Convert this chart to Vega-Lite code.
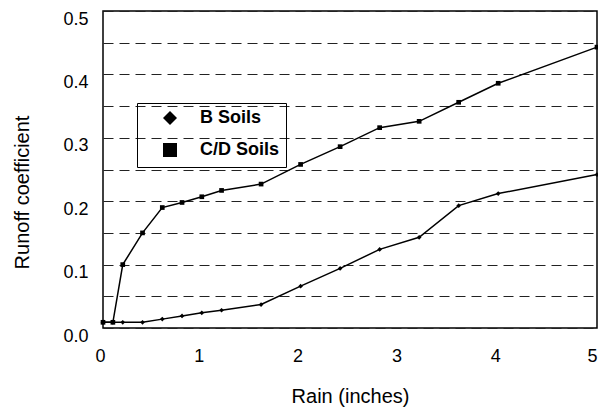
{
  "$schema": "https://vega.github.io/schema/vega-lite/v6.json",
  "width": 494,
  "height": 317,
  "autosize": {"type": "none"},
  "padding": {"left": 103, "top": 11, "right": 1, "bottom": 80},
  "background": "white",
  "config": {
    "font": "Liberation Sans",
    "view": {"stroke": "black", "strokeWidth": 1.5}
  },
  "data": {
    "values": [
      {"rain": 0.0, "coef": 0.009, "soil": "C/D Soils"},
      {"rain": 0.1, "coef": 0.009, "soil": "C/D Soils"},
      {"rain": 0.2, "coef": 0.100, "soil": "C/D Soils"},
      {"rain": 0.4, "coef": 0.150, "soil": "C/D Soils"},
      {"rain": 0.6, "coef": 0.190, "soil": "C/D Soils"},
      {"rain": 0.8, "coef": 0.198, "soil": "C/D Soils"},
      {"rain": 1.0, "coef": 0.207, "soil": "C/D Soils"},
      {"rain": 1.2, "coef": 0.217, "soil": "C/D Soils"},
      {"rain": 1.6, "coef": 0.227, "soil": "C/D Soils"},
      {"rain": 2.0, "coef": 0.258, "soil": "C/D Soils"},
      {"rain": 2.4, "coef": 0.286, "soil": "C/D Soils"},
      {"rain": 2.8, "coef": 0.316, "soil": "C/D Soils"},
      {"rain": 3.2, "coef": 0.326, "soil": "C/D Soils"},
      {"rain": 3.6, "coef": 0.356, "soil": "C/D Soils"},
      {"rain": 4.0, "coef": 0.386, "soil": "C/D Soils"},
      {"rain": 5.0, "coef": 0.443, "soil": "C/D Soils"},
      {"rain": 0.0, "coef": 0.009, "soil": "B Soils"},
      {"rain": 0.1, "coef": 0.009, "soil": "B Soils"},
      {"rain": 0.2, "coef": 0.009, "soil": "B Soils"},
      {"rain": 0.4, "coef": 0.009, "soil": "B Soils"},
      {"rain": 0.6, "coef": 0.014, "soil": "B Soils"},
      {"rain": 0.8, "coef": 0.019, "soil": "B Soils"},
      {"rain": 1.0, "coef": 0.024, "soil": "B Soils"},
      {"rain": 1.2, "coef": 0.028, "soil": "B Soils"},
      {"rain": 1.6, "coef": 0.037, "soil": "B Soils"},
      {"rain": 2.0, "coef": 0.066, "soil": "B Soils"},
      {"rain": 2.4, "coef": 0.094, "soil": "B Soils"},
      {"rain": 2.8, "coef": 0.124, "soil": "B Soils"},
      {"rain": 3.2, "coef": 0.143, "soil": "B Soils"},
      {"rain": 3.6, "coef": 0.193, "soil": "B Soils"},
      {"rain": 4.0, "coef": 0.212, "soil": "B Soils"},
      {"rain": 5.0, "coef": 0.242, "soil": "B Soils"}
    ]
  },
  "encoding": {
    "x": {
      "field": "rain",
      "type": "quantitative",
      "scale": {"domain": [0, 5], "nice": false},
      "axis": {
        "title": "Rain (inches)",
        "values": [0, 1, 2, 3, 4, 5],
        "format": "d",
        "grid": false,
        "ticks": false,
        "domain": false,
        "labelFontSize": 18,
        "labelColor": "black",
        "labelPadding": 19,
        "labelOffset": {"condition": {"test": "datum.value == 5", "value": -5}, "value": -3},
        "labelFlush": false,
        "titleFontSize": 20,
        "titleFontWeight": "normal",
        "titleColor": "black",
        "titleBaseline": "middle",
        "titleY": 68
      }
    },
    "y": {
      "field": "coef",
      "type": "quantitative",
      "scale": {"domain": [0, 0.5], "nice": false},
      "axis": {
        "title": "Runoff coefficient",
        "values": [0, 0.05, 0.1, 0.15, 0.2, 0.25, 0.3, 0.35, 0.4, 0.45, 0.5],
        "labelExpr": "round(datum.value * 20) % 2 == 0 ? format(datum.value, '.1f') : ''",
        "grid": true,
        "gridColor": "#222",
        "gridDash": [10, 6],
        "gridWidth": 1,
        "gridOpacity": 1,
        "ticks": false,
        "domain": false,
        "labelFontSize": 18,
        "labelColor": "black",
        "labelPadding": 15,
        "labelOffset": 8,
        "labelFlush": false,
        "titleFontSize": 20,
        "titleFontWeight": "normal",
        "titleColor": "black",
        "titleAlign": "center",
        "titleBaseline": "middle",
        "titleX": -81,
        "titleY": 181
      }
    }
  },
  "layer": [
    {
      "mark": {"type": "line", "color": "black", "strokeWidth": 1.5},
      "encoding": {"detail": {"field": "soil", "type": "nominal"}}
    },
    {
      "mark": {"type": "point", "filled": true, "color": "black", "size": 22, "opacity": 1},
      "encoding": {
        "shape": {
          "field": "soil",
          "type": "nominal",
          "scale": {"domain": ["B Soils", "C/D Soils"], "range": ["diamond", "square"]},
          "legend": {
            "title": null,
            "orient": "none",
            "legendX": 34,
            "legendY": 92,
            "padding": 6,
            "strokeColor": "black",
            "labelFontSize": 18,
            "labelFontWeight": "bold",
            "labelColor": "black",
            "symbolSize": 196,
            "symbolFillColor": "black",
            "symbolStrokeColor": "black",
            "symbolStrokeWidth": 2,
            "symbolOpacity": 1,
            "symbolOffset": 18,
            "labelOffset": 21,
            "rowPadding": 10
          }
        }
      }
    }
  ]
}
